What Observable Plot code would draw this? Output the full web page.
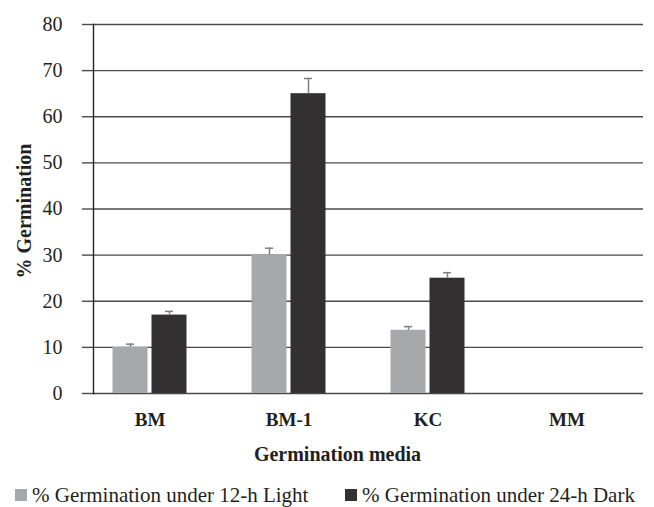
<!DOCTYPE html>
<html>
<head>
<meta charset="utf-8">
<script src="https://cdn.jsdelivr.net/npm/d3@7"></script>
<script src="https://cdn.jsdelivr.net/npm/@observablehq/plot@0.6"></script>
<style>
  body { margin: 0; background: #fff; font-family: "Liberation Serif", serif; }
  #wrap { position: relative; width: 654px; height: 507px; overflow: hidden; }
  .item { position: absolute; top: 482px; display: flex; align-items: center; font-size: 21px; line-height: 26px; color: #231f20; white-space: nowrap; }
  .item .sw { width: 12px; height: 12px; margin-right: 5px; }
</style>
</head>
<body>
<div id="wrap"></div>
<script>
const categories = ["BM", "BM-1", "KC", "MM"];
const lightValues = [10, 30, 13.7, 0];
const lightErrors = [0.7, 1.5, 0.8, 0];
const darkValues = [17, 65, 25, 0];
const darkErrors = [0.8, 3.3, 1.2, 0];
const yTicks = [0, 10, 20, 30, 40, 50, 60, 70, 80];
const seriesNames = ["% Germination under 12-h Light", "% Germination under 24-h Dark"];
const colors = ["#a7a8ab", "#323031"];
const yLabel = "% Germination";
const xLabel = "Germination media";

const light = categories.map((c, i) => ({c, v: lightValues[i], e: lightErrors[i]})).filter(d => d.v > 0);
const dark = categories.map((c, i) => ({c, v: darkValues[i], e: darkErrors[i]})).filter(d => d.v > 0);

const font = "Liberation Serif, serif";

const chart = Plot.plot({
  width: 654,
  height: 470,
  marginTop: 24,
  marginBottom: 77,
  marginLeft: 93,
  marginRight: 11,
  style: {fontFamily: font, fontSize: "20px", color: "#231f20", background: "#fff"},
  x: {domain: categories, range: [79.5, 635.5], padding: 0, label: null},
  y: {domain: [0, 80], ticks: yTicks, label: null},
  marks: [
    Plot.ruleY(yTicks, {stroke: "#4a4a4a", strokeWidth: 1.4}),
    Plot.axisY({ticks: yTicks, tickSize: 11, tickPadding: 20, stroke: "#4a4a4a", strokeWidth: 1.4, strokeOpacity: 1, fontSize: 20, label: null}),
    Plot.frame({anchor: "left", stroke: "#222", strokeWidth: 1.4}),
    Plot.barY(light, {x: "c", y: "v", fill: colors[0], insetLeft: 32.5, insetRight: 71.5}),
    Plot.barY(dark, {x: "c", y: "v", fill: colors[1], insetLeft: 71.5, insetRight: 32.5}),
    Plot.ruleX(light, {x: "c", y1: "v", y2: d => d.v + d.e, dx: -19.5, stroke: "#7f7f7f", strokeWidth: 1.5}),
    Plot.ruleX(dark, {x: "c", y1: "v", y2: d => d.v + d.e, dx: 19.5, stroke: "#7f7f7f", strokeWidth: 1.5}),
    Plot.tickY(light, {x: "c", y: d => d.v + d.e, insetLeft: 46, insetRight: 85, stroke: "#7f7f7f", strokeWidth: 1.5}),
    Plot.tickY(dark, {x: "c", y: d => d.v + d.e, insetLeft: 85, insetRight: 46, stroke: "#7f7f7f", strokeWidth: 1.5}),
    Plot.axisX({tickSize: 0, tickPadding: 19, fontWeight: "bold", fontSize: 19, label: null}),
    Plot.text([xLabel], {frameAnchor: "bottom", dy: 67, dx: -31, fontWeight: "bold", fontSize: 20, fill: "#231f20"}),
    Plot.text([yLabel], {frameAnchor: "left", textAnchor: "middle", rotate: -90, dx: -69, dy: 2, fontWeight: "bold", fontSize: 20, fill: "#231f20"})
  ]
});

const wrap = document.getElementById("wrap");
wrap.appendChild(chart);

const lefts = [15, 345];
seriesNames.forEach((name, i) => {
  const item = document.createElement("div");
  item.className = "item";
  item.style.left = lefts[i] + "px";
  const sw = document.createElement("span");
  sw.className = "sw";
  sw.style.background = colors[i];
  const t = document.createElement("span");
  t.textContent = name;
  item.appendChild(sw);
  item.appendChild(t);
  wrap.appendChild(item);
});
</script>
</body>
</html>
